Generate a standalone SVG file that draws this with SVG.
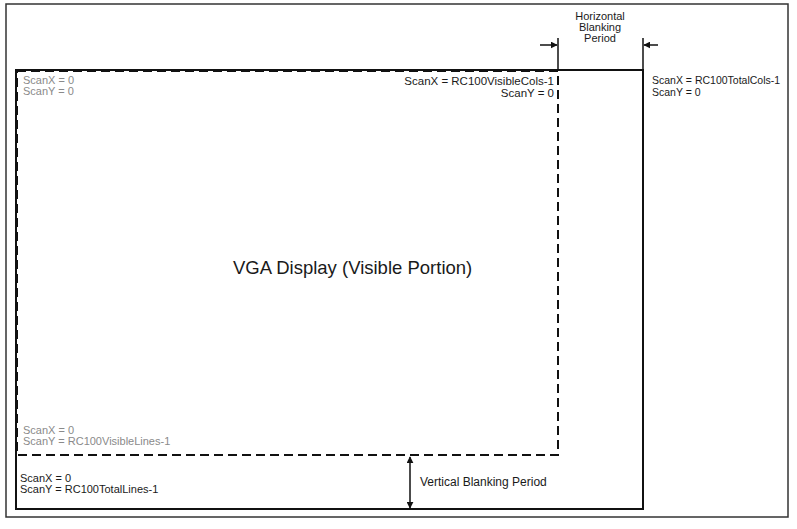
<svg xmlns="http://www.w3.org/2000/svg" width="797" height="529" viewBox="0 0 797 529">
<defs>
<style>
.t{font-family:"Liberation Sans",Arial,sans-serif;font-size:11px;fill:#1a1a1a}
.f{fill:#8a8a8a}
.solid{fill:none;stroke:#111;stroke-width:2}
.dash{fill:none;stroke:#111;stroke-width:2;stroke-dasharray:9 5}
.frame{fill:none;stroke:#333;stroke-width:1.5}
.ln{stroke:#111;stroke-width:1.5;fill:none}
</style>
<marker id="ah" viewBox="0 0 10 10" refX="9" refY="5" markerWidth="7" markerHeight="7" orient="auto-start-reverse" markerUnits="userSpaceOnUse">
<path d="M0,0 L10,5 L0,10 z" fill="#111"/>
</marker>
</defs>
<rect width="797" height="529" fill="#fff"/>
<g id="frame"><rect class="frame" x="6" y="4" width="782" height="513"/></g>
<g id="total-area">
<rect class="solid" x="16" y="70" width="627" height="439"/>
<text class="t" x="652" y="84" style="font-size:10.5px">ScanX = RC100TotalCols-1</text>
<text class="t" x="652" y="96" style="font-size:10.5px">ScanY = 0</text>
<text class="t" x="20" y="482">ScanX = 0</text>
<text class="t" x="20" y="493">ScanY = RC100TotalLines-1</text>
</g>
<g id="visible-area">
<rect class="dash" x="17" y="71" width="541" height="384" fill="#fff"/>
<text class="t f" x="23" y="84">ScanX = 0</text>
<text class="t f" x="23" y="95">ScanY = 0</text>
<text class="t" x="554" y="85" text-anchor="end" style="font-size:11.5px">ScanX = RC100VisibleCols-1</text>
<text class="t" x="554" y="97" text-anchor="end" style="font-size:11.5px">ScanY = 0</text>
<text class="t f" x="23" y="434">ScanX = 0</text>
<text class="t f" x="23" y="445">ScanY = RC100VisibleLines-1</text>
<text class="t" x="233" y="274" style="font-size:18.5px">VGA Display (Visible Portion)</text>
</g>
<g id="horizontal-blanking">
<text class="t" x="600" y="20" text-anchor="middle">Horizontal</text>
<text class="t" x="600" y="31" text-anchor="middle">Blanking</text>
<text class="t" x="600" y="42" text-anchor="middle">Period</text>
</g>
<g id="vertical-blanking">
<text class="t" x="420" y="486" style="font-size:12px">Vertical Blanking Period</text>
</g>
<g id="connectors">
<line class="ln" x1="558" y1="38" x2="558" y2="70"/>
<line class="ln" x1="643" y1="38" x2="643" y2="70"/>
<line class="ln" x1="540" y1="45" x2="557" y2="45" marker-end="url(#ah)"/>
<line class="ln" x1="658" y1="45" x2="644" y2="45" marker-end="url(#ah)"/>
<line class="ln" x1="410" y1="457" x2="410" y2="508" marker-start="url(#ah)" marker-end="url(#ah)"/>
</g>
</svg>
